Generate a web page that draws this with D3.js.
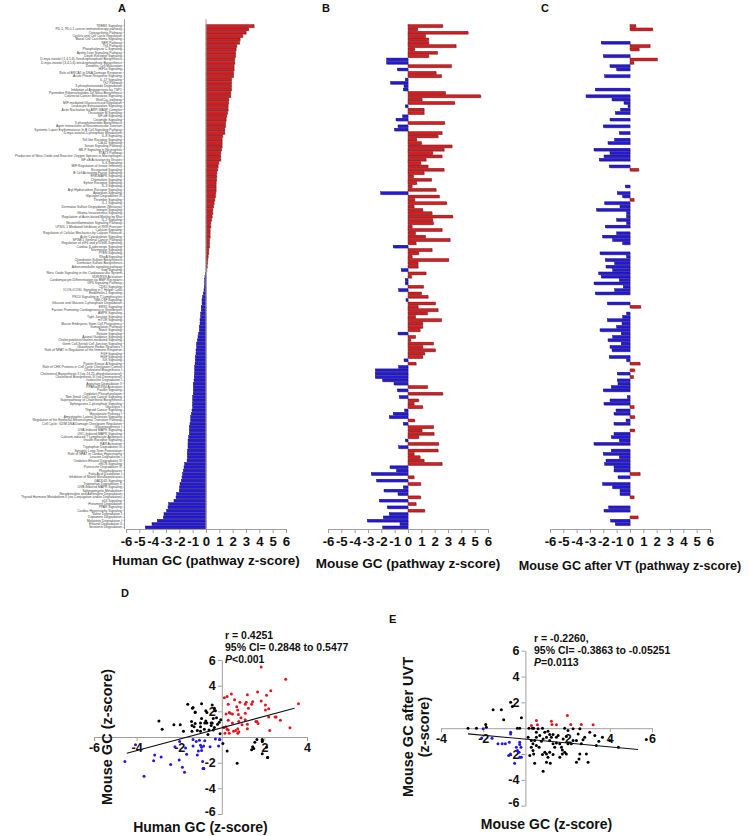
<!DOCTYPE html>
<html><head><meta charset="utf-8">
<script src="https://cdn.jsdelivr.net/npm/d3@7"></script>
<style>
html,body{margin:0;padding:0;background:#fff;}
svg{display:block;font-family:"Liberation Sans",Arial,sans-serif;}
</style></head>
<body>
<svg id="chart" width="749" height="836"></svg>
<script>
// ---------------- DATA ----------------
const pathways = [
"TREM1 Signaling","PD-1, PD-L1 cancer immunotherapy pathway","Osteoarthritis Pathway","Cyclins and Cell Cycle Regulation","Basal Cell Carcinoma Signaling",
"NER Pathway","Th1 Pathway","Phospholipase C Signaling","Apelin Liver Signaling Pathway","Death Receptor Signaling",
"D-myo-inositol (1,4,5,6)-Tetrakisphosphate Biosynthesis","D-myo-inositol (3,4,5,6)-tetrakisphosphate Biosynthesis","Dendritic Cell Maturation","HIF1\u03b1 Signaling","Role of BRCA1 in DNA Damage Response",
"Acute Phase Response Signaling","IL-17 Signaling","Th2 Pathway","3-phosphoinositide Degradation","Inhibition of Angiogenesis by TSP1",
"Pyrimidine Ribonucleotides De Novo Biosynthesis","Colorectal Cancer Metastasis Signaling","Wnt/Ca+ pathway","MIF-mediated Glucocorticoid Regulation","Leukocyte Extravasation Signaling",
"Actin Nucleation by ARP-WASP Complex","Oncostatin M Signaling","NF-\u03baB Signaling","Ceramide Signaling","3-phosphoinositide Biosynthesis",
"Agrin Interactions at Neuromuscular Junction","Systemic Lupus Erythematosus In B Cell Signaling Pathway","D-myo-inositol-5-phosphate Metabolism","IL-8 Signaling","Toll-like Receptor Signaling",
"Cdc42 Signaling","Sirtuin Signaling Pathway","fMLP Signaling in Neutrophils","STAT3 Pathway","Production of Nitric Oxide and Reactive Oxygen Species in Macrophages",
"NF-\u03baB Activation by Viruses","IL-6 Signaling","MIF Regulation of Innate Immunity","Eicosanoid Signaling","B Cell Activating Factor Signaling",
"ERK/MAPK Signaling","Chemokine Signaling","Ephrin Receptor Signaling","IL-3 Signaling","Aryl Hydrocarbon Receptor Signaling",
"Apoptosis Signaling","Glycogen Degradation III","Thrombin Signaling","IL-1 Signaling","Dermatan Sulfate Degradation (Metazoa)",
"Integrin Signaling","Glioma Invasiveness Signaling","Regulation of Actin-based Motility by Rho","IL-2 Signaling","Neuroinflammation Signaling Pathway",
"LPS/IL-1 Mediated Inhibition of RXR Function","Calcium Signaling","Regulation of Cellular Mechanics by Calpain Protease","Actin Cytoskeleton Signaling","SPINK1 General Cancer Pathway",
"Regulation of eIF4 and p70S6K Signaling","Cardiac \u03b2-adrenergic Signaling","Telomerase Signaling","PTEN Signaling","RhoA Signaling",
"Chondroitin Sulfate Biosynthesis","Dermatan Sulfate Biosynthesis","Adrenomedullin signaling pathway","G\u03b1q Signaling","Nitric Oxide Signaling in the Cardiovascular System",
"VDR/RXR Activation","Cardiomyocyte Differentiation via BMP Receptors","GP6 Signaling Pathway","CDK5 Signaling","ICOS-ICOSL Signaling in T Helper Cells",
"Endothelin-1 Signaling","PKC\u03b8 Signaling in T Lymphocytes","GM-CSF Signaling","Glucose and Glucose-1-phosphate Degradation","ERK5 Signaling",
"Factors Promoting Cardiogenesis in Vertebrates","AMPK Signaling","Tight Junction Signaling","mTOR Signaling","Mouse Embryonic Stem Cell Pluripotency",
"Sumoylation Pathway","Notch Signaling","Relaxin Signaling","Axonal Guidance Signaling","Cholecystokinin/Gastrin-mediated Signaling",
"Germ Cell-Sertoli Cell Junction Signaling","Glutathione Redox Reactions I","Role of NFAT in Regulation of the Immune Response","FGF Signaling","HGF Signaling",
"ILK Signaling","Protein Kinase A Signaling","Role of CHK Proteins in Cell Cycle Checkpoint Control","Cholesterol Biosynthesis I","Cholesterol Biosynthesis II (via 24,25-dihydrolanosterol)",
"Cholesterol Biosynthesis III (via Desmosterol)","Isoleucine Degradation I","Aspartate Degradation II","PPAR\u03b1/RXR\u03b1 Activation","Paxillin Signaling",
"Oxidative Phosphorylation","Non-Small Cell Lung Cancer Signaling","Superpathway of Cholesterol Biosynthesis","Sphingosine-1-phosphate Signaling","Glycolysis I",
"Thyroid Cancer Signaling","Mevalonate Pathway I","Amyotrophic Lateral Sclerosis Signaling","Regulation of the Epithelial-Mesenchymal Transition Pathway","Cell Cycle: G2/M DNA Damage Checkpoint Regulation",
"Gluconeogenesis I","UVA-Induced MAPK Signaling","UVC-Induced MAPK Signaling","Calcium-induced T Lymphocyte Apoptosis","Insulin Receptor Signaling",
"RAR Activation","Tryptophan Degradation III","Synaptic Long Term Potentiation","Role of NFAT in Cardiac Hypertrophy","Leucine Degradation I",
"Oxidative Ethanol Degradation III","eNOS Signaling","Putrescine Degradation III","Phospholipases","Fatty Acid \u03b2-oxidation I",
"Inhibition of Matrix Metalloproteases","GADD45 Signaling","Tryptophan Degradation X","UVB-Induced MAPK Signaling","Sphingomyelin Metabolism",
"Noradrenaline and Adrenaline Degradation","Thyroid Hormone Metabolism II (via Conjugation and/or Degradation)","p53 Signaling","Histamine Degradation","PPAR Signaling",
"Cardiac Hypertrophy Signaling","Valine Degradation I","Dopamine Degradation","Melatonin Degradation I","Ethanol Degradation II",
"Serotonin Degradation"
];

const humanZ = [
3.6,3.2,3.0,2.75,2.55,2.5,2.3,2.25,2.2,2.2,2.15,2.15,2.1,2.1,2.05,2.05,1.9,1.9,1.9,1.9,1.85,1.85,1.7,1.68,1.65,
1.65,1.6,1.55,1.5,1.45,1.45,1.4,1.4,1.25,1.2,1.2,1.2,1.15,1.1,1.1,1.1,0.95,0.9,0.85,0.8,0.8,0.78,0.75,0.75,0.75,
0.72,0.7,0.65,0.6,0.55,0.5,0.5,0.45,0.4,0.35,0.35,0.3,0.3,0.3,0.25,0.25,0.25,0.2,0.2,0.15,0.12,0.1,0.08,0.05,
-0.05,-0.08,-0.1,-0.1,-0.12,-0.15,-0.2,-0.25,-0.3,-0.3,-0.35,-0.35,-0.4,-0.4,-0.45,-0.45,-0.5,-0.5,-0.55,-0.6,-0.65,-0.7,-0.7,-0.75,-0.75,-0.8,-0.8,-0.82,
-0.85,-0.85,-0.85,-0.88,-0.9,-0.95,-0.95,-0.95,-0.95,-1.0,-1.0,-1.0,-1.0,-1.05,-1.1,-1.15,-1.15,-1.2,-1.25,-1.25,-1.25,-1.3,-1.35,-1.35,-1.35,-1.38,
-1.4,-1.4,-1.42,-1.6,-1.65,-1.7,-1.75,-1.8,-1.85,-1.95,-1.98,-2.0,-2.2,-2.25,-2.4,-2.8,-2.85,-2.95,-3.15,-3.2,-3.65,-4.05,-4.55
];

const mouseZ = [
2.6,0.72,4.5,1.3,1.55,1.55,3.6,0.5,2.2,1.55,
-1.6,-1.6,3.25,-0.8,2.1,2.5,-0.2,-1.3,-0.3,-0.35,
2.8,5.45,1.05,3.5,-0.2,1.2,1.2,-0.4,-0.9,2.75,
-0.75,-1.0,2.55,2.25,0.65,1.0,3.3,2.7,1.85,2.55,
1.35,0.95,1.5,2.7,1.2,0.4,1.75,0.65,0.3,2.1,
-2.05,2.35,0.5,2.9,0.45,1.1,1.8,3.35,1.85,1.9,
0.3,2.55,0.55,1.3,3.15,0.6,-1.1,1.8,0.8,0.3,
3.05,0.75,0.75,-0.5,1.35,0.25,-0.2,-0.2,1.15,-0.7,
1.0,1.5,-0.15,2.05,0.75,2.25,1.45,0.55,2.5,1.1,
1.1,0.9,-0.75,0.55,0.2,1.9,1.1,2.05,1.25,1.1,
-0.3,0.6,-0.7,-2.45,-2.45,-2.45,-1.9,-1.05,1.45,-0.8,
2.6,-0.65,0.8,0.45,1.1,-0.25,-1.1,-1.4,0.5,-0.35,
1.9,1.05,1.95,0.8,-0.2,2.3,-0.7,2.25,0.45,0.9,
1.2,2.55,-1.35,-0.85,-2.75,0.45,-2.35,0.95,-0.35,-1.8,
-0.75,0.95,-2.15,0.6,-1.55,1.25,-1.4,-1.85,-3.05,-0.6,
-1.9
];

// null = pathway not reported after VT
const mouseVTZ = [
0.43,1.7,null,null,null,-2.15,1.5,0.68,null,-2.0,
2.05,0.28,-1.5,-1.0,null,-1.9,null,null,null,-2.6,
null,-3.3,-1.35,-0.45,-0.15,-0.7,-1.1,null,-1.5,null,
-2.0,null,-0.8,null,-1.15,-1.65,null,-2.7,-1.5,-1.95,
-2.3,null,-1.55,0.65,null,null,null,null,-0.35,null,
-0.95,-0.55,0.3,-1.9,-0.75,-2.5,-0.25,-0.25,-1.0,-0.25,
-1.85,null,-1.0,-2.05,-1.3,-0.55,null,null,-2.25,-0.25,
-1.85,-1.15,-1.8,-1.3,-2.35,-2.15,-0.8,-2.7,-0.5,-1.15,
-2.6,null,null,-1.7,0.8,null,-0.25,-0.55,-1.7,-0.6,
-1.0,-2.25,-0.65,-1.3,-1.65,-0.65,-1.5,-1.35,null,-1.55,
-0.25,0.75,null,0.35,-0.95,0.25,-0.95,-0.9,-1.4,-2.0,
null,-0.2,-1.5,-1.95,0.3,-1.05,-1.2,0.35,-0.3,-1.2,
null,0.35,-1.2,-1.4,-0.8,-2.7,null,-1.4,-2.0,-0.8,
-1.8,-1.9,-1.2,-1.2,0.75,-0.9,null,-2.05,-1.3,-0.75,
-0.75,0.3,null,null,-1.6,-1.95,null,0.6,-1.45,-1.1,
null
];

// Panel E: Mouse GC (x) vs Mouse GC after UVT (y)
const uvtMouseX = [
-2.72,-2.32,-1.88,-1.85,-2.0,-1.53,-1.14,-0.7,-0.62,-1.03,-0.19,-0.38,-0.27,
-2.07,-1.58,-1.3,-1.1,-0.95,-0.76,-0.7,-0.7,-0.43,-0.38,-0.3,-0.27,-0.27,-0.21,-0.19,-0.79,-0.71,-0.51,-0.27,
0.28,0.52,0.57,1.23,1.26,1.47,1.99,2.15,2.65,3.21,
0.17,0.33,0.39,0.6,0.81,0.92,1.07,1.15,1.31,1.55,1.86,2.02,2.26,2.5,2.58,2.81,3.05,3.29,3.48,3.36,3.65,4.0,4.41,5.73,
0.28,0.36,0.44,0.52,0.21,0.39,0.44,0.81,0.84,0.92,1.0,1.07,1.15,1.23,1.31,1.39,1.47,1.63,1.71,1.75,1.86,1.94,2.02,2.18,2.26,
2.42,2.54,2.58,2.65,2.73,2.89,2.97,2.42,0.52,0.68,1.0,1.15,1.47,1.79,1.94,0.52,0.76,1.31,1.63,1.75,1.0,1.18,0.13,0.28,0.36,0.65,0.84
];
const uvtMouseY = [
0.0,0.0,0.28,0.08,-0.05,1.42,1.42,2.0,1.68,0.65,0.8,0.0,0.0,
-0.75,-0.78,-1.21,-1.21,-1.21,-1.09,-0.44,-0.31,-1.47,-1.73,-1.86,-1.09,-1.27,-1.47,-2.25,-2.12,-1.99,-2.71,-2.25,
0.21,0.59,0.26,0.54,0.28,0.26,0.98,0.28,0.28,0.26,
0.0,0.0,0.0,-0.05,0.0,-0.31,-0.23,-0.49,-0.49,-0.57,0.0,-0.18,-0.05,-0.44,-0.05,-0.7,-0.31,-0.57,-1.01,-1.34,-0.7,-0.96,-1.47,-0.88,
-0.96,-1.21,-0.96,-1.34,-2.12,-1.99,-2.71,-2.04,-3.33,-1.86,-1.99,-2.25,-1.86,-0.7,-1.21,-1.47,-1.14,-1.21,-1.47,-1.68,-1.86,-1.99,-1.21,-1.21,-0.96,
-2.64,-2.38,-1.99,-1.21,-0.9,-1.99,-2.64,-0.96,-0.7,-0.57,-0.7,-0.96,-0.7,-0.83,-0.65,-0.31,-1.01,-2.04,-2.25,-1.99,-2.64,-2.71,-0.7,-1.47,-1.73,-1.47,-0.83
];

// regression lines (end points)
const fitDX = [-4.46, 3.41], fitDY = [-1.27, 2.24];
const fitEX = [-2.72, 5.34], fitEY = [-0.44, -1.65];

const barTicks = [-6,-5,-4,-3,-2,-1,0,1,2,3,4,5,6];
const dXTicks = [-6,-4,-2,2,4], dYTicks = [-6,-4,-2,2,4,6];
const eXTicks = [-4,-2,2,4,6], eYTicks = [-6,-4,-2,2,4,6];

const statsD = ["r = 0.4251","95% CI= 0.2848 to 0.5477",["P","<0.001"]];
const statsE = ["r = -0.2260,","95% CI= -0.3863 to -0.05251",["P","=0.0113"]];

// ---------------- DRAW ----------------
const RED = "#e0191f", BLUE = "#2416e8", AX = "#a0a0a0";
const svg = d3.select("#chart");
const n = pathways.length;
const rowY = d3.scaleBand().domain(d3.range(n)).range([24.3, 529]).paddingInner(0.2).paddingOuter(0.1);

function barPanel(values, x0, x1, letter, letterX, title, titleY, titleSize) {
  const x = d3.scaleLinear().domain([-6, 6]).range([x0, x1]);
  const g = svg.append("g");
  const data = values.map((v, i) => ({v, i})).filter(d => d.v !== null && d.v !== 0);
  // shadow
  g.selectAll("rect.sh").data(data).join("rect")
    .attr("x", d => Math.min(x(0), x(d.v)) + 0.8)
    .attr("y", d => rowY(d.i) + 0.8)
    .attr("width", d => Math.abs(x(d.v) - x(0)))
    .attr("height", rowY.bandwidth())
    .attr("fill", "#b5b5b5");
  g.selectAll("rect.bar").data(data).join("rect")
    .attr("x", d => Math.min(x(0), x(d.v)))
    .attr("y", d => rowY(d.i))
    .attr("width", d => Math.abs(x(d.v) - x(0)))
    .attr("height", rowY.bandwidth())
    .attr("fill", d => d.v > 0 ? RED : BLUE)
    .attr("stroke", d => d.v > 0 ? "#5a1010" : "#14104a")
    .attr("stroke-width", 0.45);
  // x axis
  const ax = g.append("g").attr("transform", "translate(0,529)")
    .call(d3.axisBottom(x).tickValues(barTicks).tickSize(4).tickSizeOuter(0).tickFormat(d3.format("d")));
  ax.select(".domain").attr("stroke", AX);
  ax.selectAll(".tick line").attr("stroke", AX);
  ax.selectAll(".tick text").attr("fill", "#111").attr("font-size", 13.2).attr("font-weight", "bold")
    .attr("font-family", "Liberation Sans, Arial, sans-serif").attr("y", 7.5).attr("dy", "0.71em")
    .text(d => d < 0 ? "-" + Math.abs(d) : d);
  g.append("text").attr("x", (x0 + x1) / 2).attr("y", titleY).attr("text-anchor", "middle")
    .attr("font-size", titleSize).attr("font-weight", "bold").attr("fill", "#111").text(title);
  g.append("text").attr("x", letterX).attr("y", 12).attr("font-size", 11).attr("font-weight", "bold")
    .attr("fill", "#111").text(letter);
  return x;
}

const xA = barPanel(humanZ, 126, 286, "A", 118, "Human GC (pathway z-score)", 565, 13.5);
barPanel(mouseZ, 328, 488, "B", 322, "Mouse GC (pathway z-score)", 568, 13.5);
barPanel(mouseVTZ, 550, 710, "C", 541, "Mouse GC after VT (pathway z-score)", 570, 12.6);

// A: zero line + category axis with labels
svg.append("line").attr("x1", xA(0)).attr("x2", xA(0)).attr("y1", 19).attr("y2", 529)
  .attr("stroke", AX).attr("stroke-width", 1);
const catAxis = svg.append("g").attr("transform", "translate(124.5,0)")
  .call(d3.axisLeft(rowY).tickSize(2).tickSizeOuter(0).tickFormat(i => pathways[i]));
catAxis.select(".domain").attr("stroke", AX).attr("d", "M0,19V529");
catAxis.selectAll(".tick line").attr("stroke", "#777").attr("stroke-width", 0.4);
catAxis.selectAll(".tick text").attr("font-size", 3.3).attr("fill", "#444").attr("x", -2.6)
  .attr("font-family", "Liberation Sans, Arial, sans-serif");

// ---------- scatter panels ----------
function colorOf(x, y) { return (x > 0 && y > 0) ? RED : (x < 0 && y < 0) ? BLUE : "#000"; }

function scatter(opt) {
  const x = d3.scaleLinear().domain(opt.xd).range(opt.xr);
  const y = d3.scaleLinear().domain([-6, 6]).range(opt.yr);
  const g = svg.append("g");
  // x axis
  const ax = g.append("g").attr("transform", `translate(0,${y(0)})`)
    .call(d3.axisBottom(x).tickValues(opt.xt).tickSize(4).tickSizeOuter(0));
  ax.select(".domain").attr("stroke", AX);
  ax.selectAll(".tick line").attr("stroke", AX);
  ax.selectAll(".tick text").attr("font-size", 12.5).attr("font-weight", "bold").attr("fill", "#111")
    .attr("font-family", "Liberation Sans, Arial, sans-serif").attr("y", 6)
    .text(d => d < 0 ? "-" + Math.abs(d) : d);
  const ay = g.append("g").attr("transform", `translate(${x(0)},0)`)
    .call(d3.axisLeft(y).tickValues(opt.yt).tickSize(4).tickSizeOuter(0));
  ay.select(".domain").attr("stroke", AX);
  ay.selectAll(".tick line").attr("stroke", AX);
  ay.selectAll(".tick text").attr("font-size", 12.5).attr("font-weight", "bold").attr("fill", "#111")
    .attr("font-family", "Liberation Sans, Arial, sans-serif").attr("x", -6)
    .attr("dy", d => d === -6 ? "0.1em" : "0.32em")
    .text(d => d < 0 ? "-" + Math.abs(d) : d);
  // points
  g.selectAll("circle").data(opt.pts).join("circle")
    .attr("cx", d => x(d[0])).attr("cy", d => y(d[1])).attr("r", 1.5)
    .attr("fill", d => colorOf(d[0], d[1]));
  // fit line
  g.append("line").attr("x1", x(opt.fx[0])).attr("y1", y(opt.fy[0]))
    .attr("x2", x(opt.fx[1])).attr("y2", y(opt.fy[1]))
    .attr("stroke", "#111").attr("stroke-width", 1.1);
  // stats
  opt.stats.forEach((s, k) => {
    const t = g.append("text").attr("x", opt.sx).attr("y", opt.sy + k * 12)
      .attr("font-size", 10.5).attr("font-weight", "bold").attr("fill", "#111");
    if (Array.isArray(s)) {
      t.append("tspan").attr("font-style", "italic").text(s[0]);
      t.append("tspan").text(s[1]);
    } else t.text(s);
  });
  // titles
  g.append("text").attr("x", (opt.xr[0] + opt.xr[1]) / 2).attr("y", opt.xtY).attr("text-anchor", "middle")
    .attr("font-size", 14).attr("font-weight", "bold").attr("fill", "#111").text(opt.xTitle);
  opt.yTitle.forEach((line, k) => {
    g.append("text").attr("transform", `translate(${opt.ytX + k * 16},${opt.ytY}) rotate(-90)`)
      .attr("text-anchor", "middle").attr("font-size", 14.5).attr("font-weight", "bold").attr("fill", "#111")
      .text(line);
  });
  g.append("text").attr("x", opt.lx).attr("y", opt.ly).attr("font-size", 11).attr("font-weight", "bold")
    .attr("fill", "#111").text(opt.letter);
}

scatter({
  xd: [-6, 4], xr: [94, 307], yr: [814, 660], xt: dXTicks, yt: dYTicks,
  pts: humanZ.map((v, i) => [v, mouseZ[i]]),
  fx: fitDX, fy: fitDY, stats: statsD, sx: 225, sy: 639,
  xTitle: "Human GC (z-score)", xtY: 831.5, yTitle: ["Mouse GC (z-score)"], ytX: 112, ytY: 737,
  letter: "D", lx: 121, ly: 597
});
scatter({
  xd: [-4, 6], xr: [441, 652], yr: [805.7, 650.7], xt: eXTicks, yt: eYTicks,
  pts: uvtMouseX.map((v, i) => [v, uvtMouseY[i]]),
  fx: fitEX, fy: fitEY, stats: statsE, sx: 534, sy: 642,
  xTitle: "Mouse GC (z-score)", xtY: 829, yTitle: ["Mouse GC after UVT", "(z-score)"], ytX: 413, ytY: 727,
  letter: "E", lx: 389, ly: 623
});
</script>
</body></html>
